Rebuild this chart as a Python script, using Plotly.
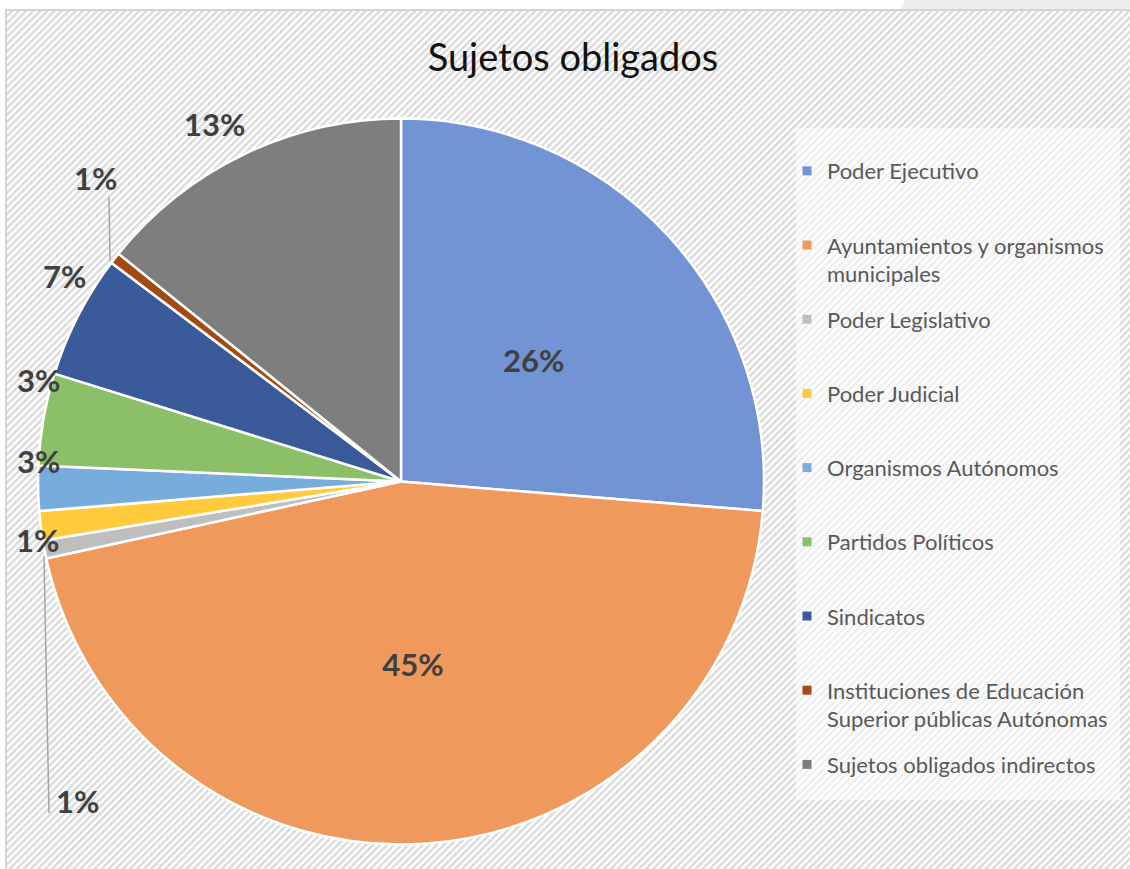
import base64
import plotly.graph_objects as go

# ---- data ----
categories = [
    "Poder Ejecutivo",
    "Ayuntamientos y organismos<br>municipales",
    "Poder Legislativo",
    "Poder Judicial",
    "Organismos Autónomos",
    "Partidos Políticos",
    "Sindicatos",
    "Instituciones de Educación<br>Superior públicas Autónomas",
    "Sujetos obligados indirectos",
]
values = [26.3, 45.3, 0.8, 1.3, 2.0, 4.1, 5.5, 0.5, 14.2]
value_labels = ["26%", "45%", "1%", "1%", "3%", "3%", "7%", "1%", "13%"]

# ---- styling ----
colors = ["#7293D4", "#F0995C", "#BEBEBE", "#FFCB3D", "#78ACDD",
          "#8BBF68", "#3A5A9A", "#A14A12", "#7E7E7E"]
text_pos = ["none", "inside"] + ["none"] * 7
# pixel centres for the data labels placed by hand (Excel "best fit" placement)
label_px = {0: (533, 360), 2: (77, 801), 3: (37, 540), 4: (38, 461), 5: (38, 380),
            6: (64, 276), 7: (95, 178), 8: (214, 124)}
leader_lines_px = [((44, 556), (49, 813)), ((109, 197), (110, 261))]

W, H = 1130, 869
LABEL_FONT = dict(family="Lato", size=31, color="#404040", weight="bold")

# hatched background (styling only)
svg = f'''<svg xmlns="http://www.w3.org/2000/svg" width="{W}" height="{H}" viewBox="0 0 {W} {H}">
<defs><pattern id="p" width="5" height="5" patternUnits="userSpaceOnUse" patternTransform="rotate(45)">
<rect width="2.5" height="5" fill="#DADADA"/></pattern></defs>
<rect width="{W}" height="{H}" fill="white"/>
<path d="M905 0 L1130 0 L1130 10 L900 10 Z" fill="#EDEDED"/>
<rect x="6" y="10" width="{W}" height="{H}" fill="white"/>
<rect x="6" y="10" width="{W}" height="{H}" fill="url(#p)" stroke="#D4D4D4" stroke-width="2"/>
<rect x="796" y="128" width="324" height="672" fill="white" fill-opacity="0.55"/>
</svg>'''
src = "data:image/svg+xml;base64," + base64.b64encode(svg.encode()).decode()

fig = go.Figure()
fig.add_trace(go.Pie(
    labels=categories,
    values=values,
    text=value_labels,
    texttemplate="%{text}",
    textposition=text_pos,
    insidetextorientation="horizontal",
    sort=False,
    direction="clockwise",
    rotation=0,
    marker=dict(colors=colors, line=dict(color="white", width=2.5)),
    textfont=LABEL_FONT,
    insidetextfont=LABEL_FONT,
    domain=dict(x=[38 / W, 764 / W], y=[1 - 845 / H, 1 - 118 / H]),
    hoverinfo="label+percent",
    showlegend=False,
))

# legend entries (one per category, equal-height slots)
for cat, col in zip(categories, colors):
    pad = "<br> " * (2 - (cat.count("<br>") + 1))
    fig.add_trace(go.Scatter(
        x=[None], y=[None], mode="markers", name=cat + pad,
        legendgroup=cat, showlegend=True,
        marker=dict(symbol="square", size=9, color=col),
        hoverinfo="skip",
    ))

# hand-placed data labels
for i, (px, py) in label_px.items():
    fig.add_annotation(text=value_labels[i], x=px / W, y=1 - py / H,
                       xref="paper", yref="paper", showarrow=False,
                       xanchor="center", yanchor="middle", font=LABEL_FONT)
for (x0, y0), (x1, y1) in leader_lines_px:
    fig.add_shape(type="line", xref="paper", yref="paper",
                  x0=x0 / W, y0=1 - y0 / H, x1=x1 / W, y1=1 - y1 / H,
                  line=dict(color="#A6A6A6", width=1.5))

fig.update_layout(
    width=W, height=H,
    margin=dict(l=0, r=0, t=0, b=0, autoexpand=False),
    paper_bgcolor="white",
    plot_bgcolor="rgba(0,0,0,0)",
    xaxis=dict(visible=False),
    yaxis=dict(visible=False),
    title=dict(text="Sujetos obligados", x=573 / W, xanchor="center",
               y=1 - 58 / H, yanchor="middle",
               font=dict(family="Lato", size=38, color="#111111")),
    images=[dict(source=src, xref="paper", yref="paper", x=0, y=1,
                 sizex=1, sizey=1, xanchor="left", yanchor="top",
                 sizing="stretch", layer="below")],
    legend=dict(x=787 / W, y=1 - 150 / H, xanchor="left", yanchor="top",
                font=dict(family="Lato", size=22, color="#595959"),
                bgcolor="rgba(0,0,0,0)", valign="top", itemwidth=30,
                tracegroupgap=14),
    showlegend=True,
)

fig.write_html("out.html", config={"displayModeBar": False},
               post_script="document.body.style.margin='0';document.body.style.overflow='hidden';")
